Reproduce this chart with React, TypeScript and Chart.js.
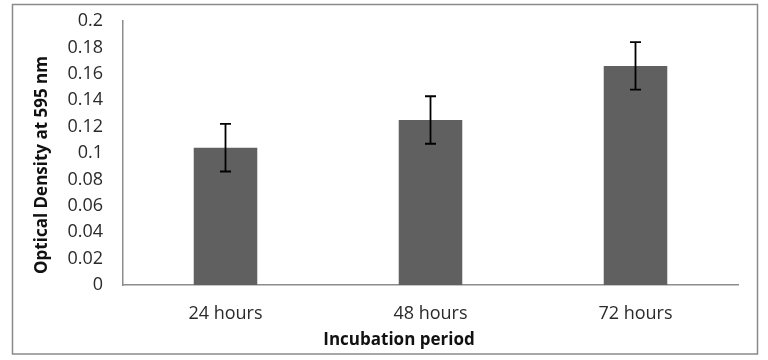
import React, { useEffect, useRef } from "react";
import { Chart, registerables } from "chart.js";

Chart.register(...registerables);

const categories = ["24 hours", "48 hours", "72 hours"];
const values = [0.104, 0.125, 0.166];
const errors = [0.018, 0.018, 0.018];
const yTickMin = 0;
const yTickMax = 0.2;
const yTickStep = 0.02;
const xTitle = "Incubation period";
const yTitle = "Optical Density at 595 nm";

const FONT = "'Open Sans', 'Liberation Sans', sans-serif";

const errorBarsPlugin = {
  id: "errorBars",
  afterDatasetsDraw(chart: any) {
    const ctx = chart.ctx;
    const meta = chart.getDatasetMeta(0);
    const yScale = chart.scales.y;
    ctx.save();
    ctx.strokeStyle = "#000000";
    ctx.lineWidth = 1.8;
    meta.data.forEach((bar: any, i: number) => {
      const x = bar.x;
      const top = yScale.getPixelForValue(values[i] + errors[i]);
      const bot = yScale.getPixelForValue(values[i] - errors[i]);
      const cap = 5.5;
      ctx.beginPath();
      ctx.moveTo(x, top);
      ctx.lineTo(x, bot);
      ctx.moveTo(x - cap, top);
      ctx.lineTo(x + cap, top);
      ctx.moveTo(x - cap, bot);
      ctx.lineTo(x + cap, bot);
      ctx.stroke();
    });
    ctx.restore();
  },
};

const decorPlugin = {
  id: "decor",
  afterDraw(chart: any) {
    const ctx = chart.ctx;
    ctx.save();
    // outer frame
    ctx.strokeStyle = "#8a8a8a";
    ctx.lineWidth = 1.5;
    ctx.strokeRect(12.5, 4.5, 745, 349.5);
    // titles
    ctx.fillStyle = "#111111";
    ctx.textAlign = "center";
    ctx.textBaseline = "middle";
    ctx.font = `bold 17px ${FONT}`;
    ctx.fillText(xTitle, 399, 340);
    ctx.translate(42, 165);
    ctx.rotate(-Math.PI / 2);
    ctx.font = `bold 17px ${FONT}`;
    ctx.fillText(yTitle, 0, 0);
    ctx.restore();
  },
};

export default function App() {
  const canvasRef = useRef<HTMLCanvasElement | null>(null);

  useEffect(() => {
    if (!canvasRef.current) return;
    const chart = new Chart(canvasRef.current, {
      type: "bar",
      data: {
        labels: categories,
        datasets: [
          {
            data: values,
            backgroundColor: "#606060",
            borderWidth: 0,
            barPercentage: 1,
            categoryPercentage: 0.31,
          },
        ],
      },
      options: {
        responsive: false,
        animation: false,
        events: [],
        layout: { padding: { left: 12, right: 30, top: 21, bottom: 6 } },
        plugins: {
          legend: { display: false },
          tooltip: { enabled: false },
        },
        scales: {
          x: {
            grid: { display: false, drawTicks: true, tickLength: 16 },
            border: { display: true, color: "#8c8c8c", width: 1.5 },
            ticks: {
              padding: 2,
              color: "#2a2a2a",
              font: { family: FONT, size: 18 },
            },
            afterFit(scale: any) {
              scale.height = 69;
            },
          },
          y: {
            min: yTickMin,
            max: yTickMax,
            grid: { display: false, drawTicks: true, tickLength: 18 },
            border: { display: true, color: "#8c8c8c", width: 1.5 },
            ticks: {
              stepSize: yTickStep,
              padding: 2,
              color: "#2a2a2a",
              font: { family: FONT, size: 18 },
              callback: (v: any) => String(Math.round(Number(v) * 100) / 100),
            },
            afterFit(scale: any) {
              scale.width = 111;
            },
          },
        },
      },
      plugins: [errorBarsPlugin, decorPlugin],
    });
    return () => chart.destroy();
  }, []);

  return (
    <div style={{ position: "absolute", left: 0, top: 0, width: 768, height: 360, background: "#ffffff" }}>
      <canvas ref={canvasRef} width={768} height={360} style={{ display: "block" }} />
    </div>
  );
}
